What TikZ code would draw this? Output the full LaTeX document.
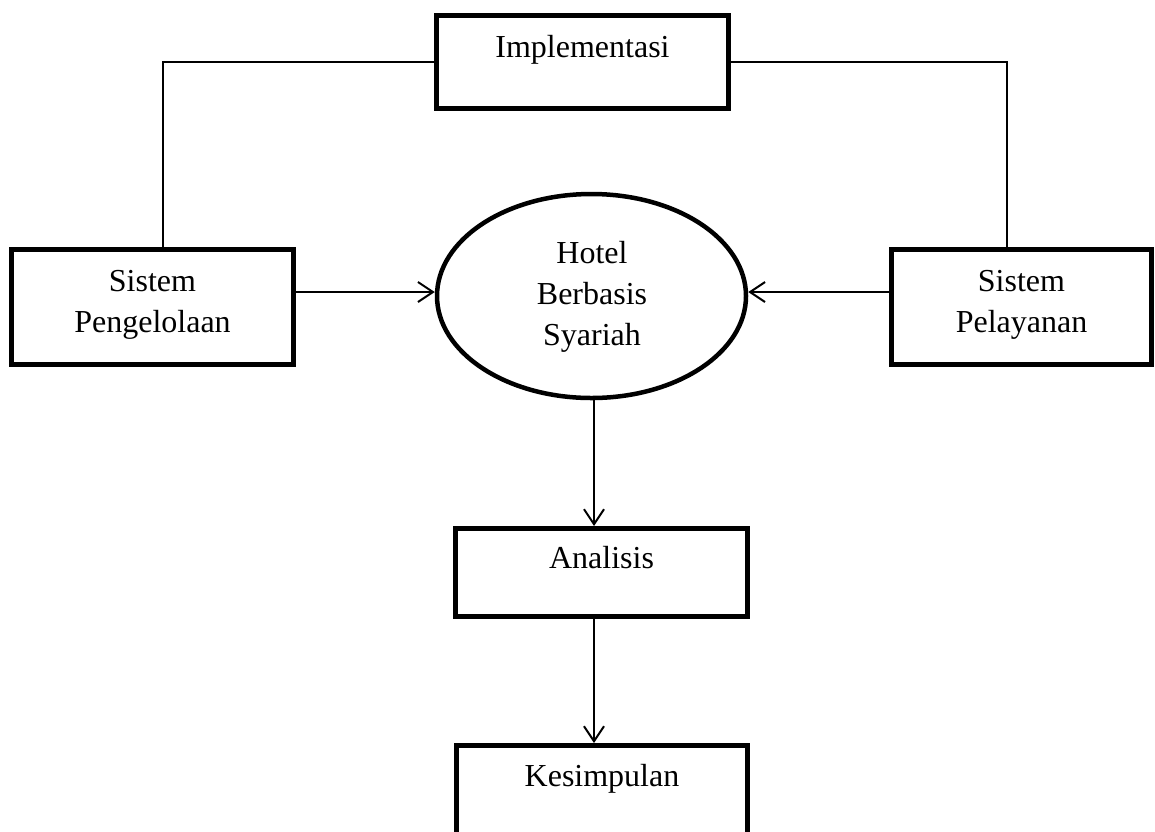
\documentclass[tikz,border=0pt]{standalone}
\usepackage{fontspec}
\setmainfont{Liberation Serif}
\usetikzlibrary{arrows.meta,shapes.geometric}
\begin{document}
\begin{tikzpicture}[x=1pt,y=-1pt,
  box/.style={draw, line width=5pt, rectangle, inner sep=0pt},
  oval/.style={draw, ellipse, line width=4.5pt, inner sep=0pt},
  txt/.style={inner sep=0pt, align=center, font=\fontsize{32}{41}\selectfont},
  conn/.style={line width=2pt},
  arr/.style={line width=2pt, -{Straight Barb[length=15pt,width=20pt]}}]
\clip (0,0) rectangle (1155,831);
\fill[white] (0,0) rectangle (1155,831);
% boxes
\node[box, minimum width=292pt, minimum height=93pt] (impl) at (582.5,62) {};
\node[box, minimum width=282pt, minimum height=115pt] (peng) at (152.5,307) {};
\node[box, minimum width=260pt, minimum height=115pt] (pela) at (1021.5,307) {};
\node[oval, minimum width=309pt, minimum height=204pt] (ell) at (591.5,296) {};
\node[box, minimum width=292pt, minimum height=88pt] (anal) at (601.5,572.5) {};
\node[box, minimum width=291pt, minimum height=110pt] (kesi) at (602,800.5) {};
% texts
\node[txt, anchor=base] (implt) at (582.5,57) {Implementasi};
\node[txt, anchor=north] (pengt) at (152.5,270) {Sistem\\Pengelolaan};
\node[txt, anchor=north] (pelat) at (1021.5,270) {Sistem\\Pelayanan};
\node[txt, anchor=north] (ellt) at (592,241) {Hotel\\Berbasis\\Syariah};
\node[txt, anchor=base] (analt) at (601.5,568) {Analisis};
\node[txt, anchor=base] (kesit) at (602,786) {Kesimpulan};
% connectors
\draw[conn] (impl.west) -| ([xshift=10.5pt]peng.north);
\draw[conn] (impl.east) -| ([xshift=-14.5pt]pela.north);
\draw[arr] ([yshift=4pt]ell.west -| peng.east) -- ([yshift=4pt]ell.west);
\draw[arr] ([yshift=4pt]ell.east -| pela.west) -- ([yshift=4pt]ell.east);
\draw[arr] ([xshift=2.5pt]ell.south) -- ([xshift=2.5pt]ell.south |- anal.north);
\draw[arr] ([xshift=2.5pt]ell.south |- anal.south) -- ([xshift=2.5pt]ell.south |- kesi.north);
\end{tikzpicture}
\end{document}
